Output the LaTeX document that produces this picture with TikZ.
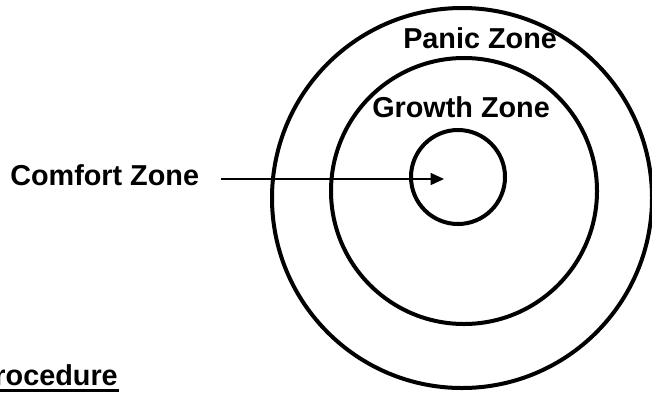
\documentclass[tikz,border=0pt]{standalone}
\usepackage{fontspec}
\setmainfont{Liberation Sans}
\usetikzlibrary{arrows.meta}
\tikzset{
  ring/.style={draw=black, line width=3pt},
  zonelabel/.style={inner sep=0pt, anchor=base west, font=\fontsize{21.6}{26}\selectfont\bfseries},
  pointer/.style={draw=black, line width=1pt, -{Triangle[length=10pt,width=9pt]}}
}
\begin{document}
\begin{tikzpicture}[x=0.75pt,y=-0.75pt]
\useasboundingbox (0,0) rectangle (652,394);
\clip (0,0) rectangle (652,394);
\fill[white] (0,0) rectangle (652,394);
% circles
\draw[ring] (462,198) circle[radius=190];
\draw[ring] (464,191) circle[radius=133];
\draw[ring] (458,177) circle[radius=47];
% labels
\node[zonelabel] (panic) at (403,48) {Panic Zone};
\node[zonelabel] (growth) at (372,117) {Growth Zone};
\node[zonelabel] (comfort) at (10,185) {Comfort Zone};
\node[zonelabel, anchor=base east] (proc) at (118,385) {Procedure};
\draw[line width=2.3pt] ([yshift=-4pt]proc.base west) -- ([yshift=-4pt,xshift=1pt]proc.base east);
% arrow
\coordinate (arrowstart) at (221,179);
\coordinate (tip) at (444,179);
\draw[pointer] (arrowstart) -- (tip);
\end{tikzpicture}
\end{document}
